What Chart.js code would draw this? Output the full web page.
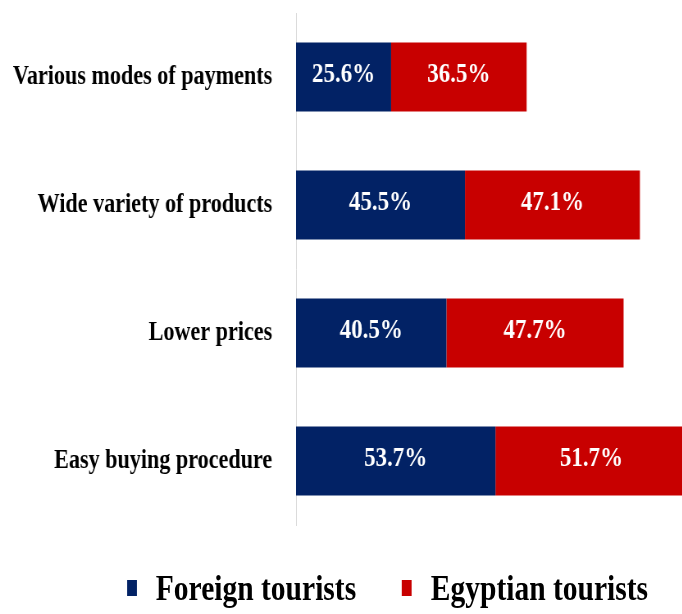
<!DOCTYPE html>
<html lang="en">
<head>
  <meta charset="UTF-8">
  <title>Reasons for shopping</title>
  <script src="https://cdn.jsdelivr.net/npm/chart.js"></script>
  <style>
    html, body {
      margin: 0;
      padding: 0;
      background: #ffffff;
      overflow: hidden;
    }
    /* whole figure is drawn wide and then squeezed, like a condensed Times face */
    #figure {
      position: relative;
      width: 832px;
      height: 614px;
      transform: scaleX(0.82);
      transform-origin: 0 0;
    }
    #chartBox {
      position: absolute;
      left: 0;
      top: 0;
      width: 832px;
      height: 545px;
    }
    #legend {
      position: absolute;
      left: 155px;
      top: 570px;
      display: flex;
      align-items: center;
      font-family: "Liberation Serif", "Times New Roman", serif;
      font-weight: bold;
      font-size: 36px;
      line-height: 36px;
      color: #000000;
    }
    #legend .item {
      display: flex;
      align-items: center;
      margin-right: 56px;
      white-space: nowrap;
    }
    #legend .box {
      width: 12px;
      height: 16px;
      margin-right: 23px;
    }
  </style>
</head>
<body>
  <div id="figure">
    <div id="chartBox"><canvas id="shopChart"></canvas></div>
    <div id="legend"></div>
  </div>

  <script>
    const categories = [
      "Various modes of payments",
      "Wide variety of products",
      "Lower prices",
      "Easy buying procedure"
    ];
    const foreignTourists = [25.6, 45.5, 40.5, 53.7];
    const egyptianTourists = [36.5, 47.1, 47.7, 51.7];

    const FONT = '"Liberation Serif", "Times New Roman", serif';

    // writes the percentage in the middle of every bar segment
    const barValues = {
      id: 'barValues',
      afterDatasetsDraw(chart) {
        const ctx = chart.ctx;
        ctx.save();
        ctx.font = 'bold 28px ' + FONT;
        ctx.fillStyle = '#ffffff';
        ctx.textAlign = 'center';
        ctx.textBaseline = 'middle';
        chart.data.datasets.forEach((ds, i) => {
          chart.getDatasetMeta(i).data.forEach((bar, j) => {
            const p = bar.getCenterPoint();
            ctx.fillText(ds.data[j].toFixed(1) + '%', p.x, p.y - 2);
          });
        });
        ctx.restore();
      }
    };

    const chart = new Chart(document.getElementById('shopChart'), {
      type: 'bar',
      data: {
        labels: categories,
        datasets: [
          {
            label: 'Foreign tourists',
            data: foreignTourists,
            backgroundColor: '#022265'
          },
          {
            label: 'Egyptian tourists',
            data: egyptianTourists,
            backgroundColor: '#c80000'
          }
        ]
      },
      options: {
        indexAxis: 'y',
        responsive: true,
        maintainAspectRatio: false,
        animation: false,
        datasets: {
          bar: {
            barPercentage: 1,
            categoryPercentage: 0.54,
            borderWidth: 0
          }
        },
        layout: {
          padding: { top: 13, bottom: 20, left: 0, right: 0 }
        },
        plugins: {
          legend: { display: false },
          tooltip: { enabled: false }
        },
        scales: {
          x: {
            stacked: true,
            display: false,
            min: 0,
            max: 104
          },
          y: {
            stacked: true,
            afterFit(scale) {
              // fixed axis width; tick padding is only meant sideways
              scale.width = 361;
              scale.paddingTop = 0;
              scale.paddingBottom = 0;
            },
            grid: { display: false, drawTicks: false },
            border: { display: true, color: '#d9d9d9', width: 1 },
            ticks: {
              padding: 29,
              color: '#000000',
              font: { family: FONT, size: 27, weight: 'bold' }
            }
          }
        }
      },
      plugins: [barValues]
    });

    // html legend built from the datasets
    const legendEl = document.getElementById('legend');
    chart.data.datasets.forEach(ds => {
      const item = document.createElement('div');
      item.className = 'item';
      const box = document.createElement('span');
      box.className = 'box';
      box.style.background = ds.backgroundColor;
      const txt = document.createElement('span');
      txt.textContent = ds.label;
      item.appendChild(box);
      item.appendChild(txt);
      legendEl.appendChild(item);
    });
  </script>
</body>
</html>
